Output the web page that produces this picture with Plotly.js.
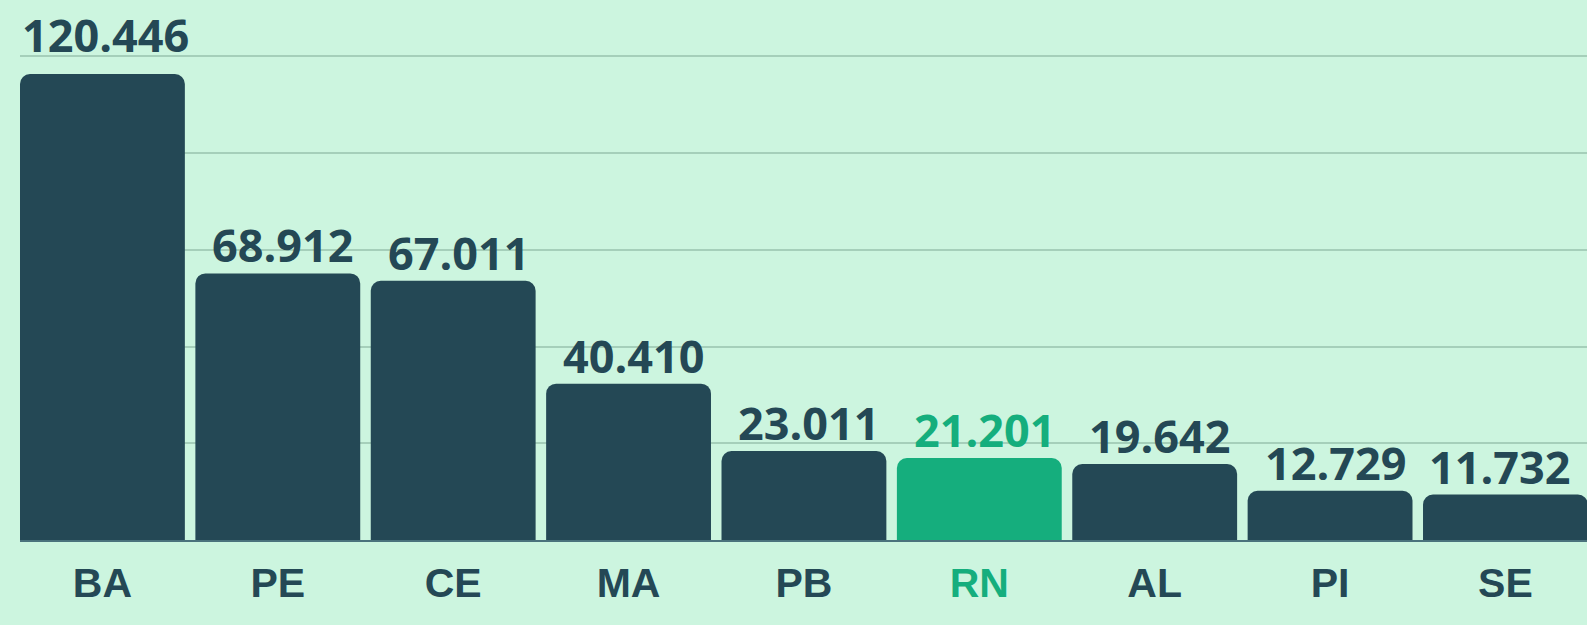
<!DOCTYPE html>
<html>
<head>
<meta charset="utf-8">
<script src="https://cdn.plot.ly/plotly-3.0.1.min.js"></script>
<style>
html,body{margin:0;padding:0;background:#ccf5df;}
#chart{width:1587px;height:625px;}
</style>
</head>
<body>
<div id="chart"></div>
<script>
const categories = ['BA','PE','CE','MA','PB','RN','AL','PI','SE'];
const values = [120446, 68912, 67011, 40410, 23011, 21201, 19642, 12729, 11732];
const highlight = 'RN';

const DARK = '#244855';
const GREEN = '#15ae7d';
const BG = '#ccf5df';

function fmt(v){ return String(v).replace(/\B(?=(\d{3})+(?!\d))/g, '.'); }

const colors = categories.map(c => c === highlight ? GREEN : DARK);

const trace = {
  type: 'bar',
  x: categories,
  y: values,
  marker: {color: colors, line: {width: 0}},
  hoverinfo: 'none'
};

const last = categories.length - 1;
const annotations = categories.map((c, i) => ({
  x: c, y: values[i], xref: 'x', yref: 'y',
  text: fmt(values[i]),
  showarrow: false,
  yanchor: 'bottom',
  yshift: i === 0 ? 7 : -4,
  xshift: i === 0 ? 3 : (i === last ? -6 : 5),
  font: {family: 'Open Sans', size: 45, color: c === highlight ? GREEN : DARK, weight: 700}
}));

const ticktext = categories.map(c => c === highlight ? '<span style="color:' + GREEN + '">' + c + '</span>' : c);

const layout = {
  width: 1587, height: 625,
  paper_bgcolor: BG, plot_bgcolor: BG,
  margin: {l: 20, r: 0, t: 0, b: 85},
  bargap: 0.06,
  barcornerradius: 10,
  showlegend: false,
  xaxis: {
    type: 'category',
    range: [-0.47, 8.465],
    tickvals: categories, ticktext: ticktext,
    showgrid: false, zeroline: false,
    showline: true, linecolor: '#4a727c', linewidth: 2,
    ticks: '', ticklabelstandoff: 6,
    tickfont: {family: 'Liberation Sans', size: 41, color: DARK, weight: 700},
    fixedrange: true
  },
  yaxis: {
    range: [0, 139570],
    dtick: 25000, tick0: 0,
    showgrid: true, gridcolor: '#a5cfba', gridwidth: 2,
    zeroline: false, showticklabels: false, ticks: '',
    fixedrange: true
  },
  annotations: annotations
};

Plotly.newPlot('chart', [trace], layout, {displayModeBar: false, staticPlot: true});
</script>
</body>
</html>
